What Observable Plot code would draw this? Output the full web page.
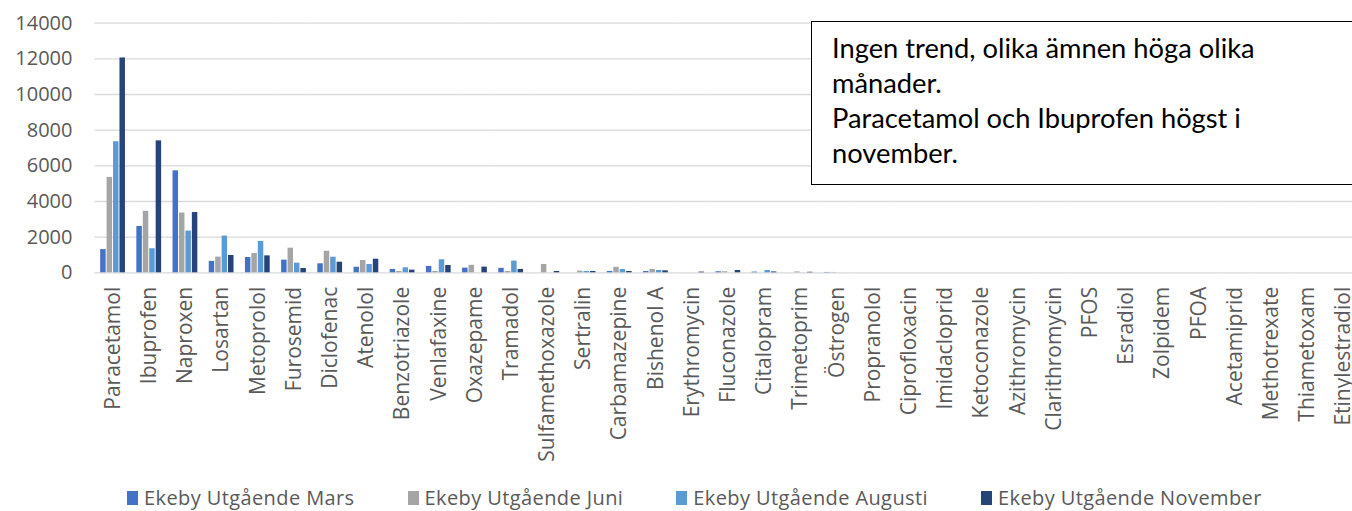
<!DOCTYPE html>
<html>
<head>
<meta charset="utf-8">
<script src="https://cdn.jsdelivr.net/npm/d3@7"></script>
<script src="https://cdn.jsdelivr.net/npm/@observablehq/plot@0.6"></script>
<style>
  html, body { margin: 0; padding: 0; background: #fff; overflow: hidden; width: 1352px; height: 511px; }
  #wrap { position: relative; width: 1352px; height: 511px; overflow: hidden; }
  #note { position: absolute; left: 811px; top: 21px; width: 620px; height: 164px; box-sizing: border-box;
          border: 1.5px solid #000; background: #fff; font-family: Lato, 'Open Sans', sans-serif; font-size: 27.3px;
          line-height: 35px; color: #000; padding: 8px 0 0 20px; }
  #note div { white-space: nowrap; }
  #legend { position: absolute; left: 127px; top: 486px; display: flex; font-family: 'Open Sans', sans-serif;
            font-size: 20px; letter-spacing: 0.4px; color: #595959; line-height: 24px; }
  #legend .item { display: flex; align-items: center; margin-right: 53px; white-space: nowrap; }
  #legend .sw { width: 11px; height: 14px; margin-right: 6px; }
</style>
</head>
<body>
<div id="wrap">
  <div id="chart"></div>
  <div id="note"></div>
  <div id="legend"></div>
</div>
<script>
const categories = ["Paracetamol","Ibuprofen","Naproxen","Losartan","Metoprolol","Furosemid","Diclofenac","Atenolol",
  "Benzotriazole","Venlafaxine","Oxazepame","Tramadol","Sulfamethoxazole","Sertralin","Carbamazepine","Bishenol A",
  "Erythromycin","Fluconazole","Citalopram","Trimetoprim","Östrogen","Propranolol","Ciprofloxacin","Imidacloprid",
  "Ketoconazole","Azithromycin","Clarithromycin","PFOS","Esradiol","Zolpidem","PFOA","Acetamiprid","Methotrexate",
  "Thiametoxam","Etinylestradiol"];

const series = ["Ekeby Utgående Mars","Ekeby Utgående Juni","Ekeby Utgående Augusti","Ekeby Utgående November"];
const colors = ["#4472C4","#A5A5A5","#5B9BD5","#264478"];

const mars     = [1300,2600,5720,640,860,710,505,314, 190,355,262,250,0,0,75,75, 0,60,40,0,20,0,0,0, 0,0,0,0,0,0,0,0,0, 0,0];
const juni     = [5350,3450,3350,880,1080,1380,1210,690, 75,75,420,75,468,95,310,187, 0,60,0,50,20,0,0,0, 0,0,0,0,0,0,0,0,0, 0,0];
const augusti  = [7350,1350,2340,2060,1760,540,875,465, 280,730,0,655,0,75,187,130, 0,0,130,0,0,0,0,0, 0,0,0,0,0,0,0,0,0, 0,0];
const november = [12050,7400,3380,970,950,240,594,763, 150,410,318,187,75,75,75,112, 40,130,50,30,0,0,0,0, 0,0,0,0,0,0,0,0,0, 0,0];

const yTicks = [0,2000,4000,6000,8000,10000,12000,14000];

const noteLines = ["Ingen trend, olika ämnen höga olika", "månader.", "Paracetamol och Ibuprofen högst i", "november."];

const seriesValues = [mars, juni, augusti, november];
const data = categories.flatMap((c, i) => seriesValues.map((arr, j) => ({cat: c, series: series[j], value: arr[i]})));

const chart = Plot.plot({
  width: 1352,
  height: 470,
  marginLeft: 99.2,
  marginRight: -4.4,
  marginTop: 22.7,
  marginBottom: 197.7,
  style: {fontFamily: "'Open Sans', sans-serif", color: "#595959", background: "transparent", overflow: "visible"},
  fx: {domain: categories, padding: 0.262, round: false, label: null},
  x: {domain: series, padding: 0.15, round: false, axis: null},
  y: {domain: [0, 14000], label: null},
  color: {domain: series, range: colors},
  marks: [
    Plot.ruleY(yTicks, {stroke: "#d9d9d9", strokeWidth: 1.3, insetLeft: -4.8, insetRight: -4.8}),
    Plot.barY(data, {fx: "cat", x: "series", y: "value", fill: "series"}),
    Plot.axisY({ticks: yTicks, tickSize: 0, tickPadding: 27.2, tickFormat: d3.format("d"), fontSize: 20, label: null}),
    Plot.axisFx({anchor: "bottom", tickSize: 0, tickPadding: 14, tickRotate: -90, fontSize: 21, label: null})
  ]
});
document.getElementById("chart").appendChild(chart);

const note = document.getElementById("note");
noteLines.forEach(t => { const d = document.createElement("div"); d.textContent = t; note.appendChild(d); });

const legend = document.getElementById("legend");
series.forEach((s, i) => {
  const it = document.createElement("div"); it.className = "item";
  const sw = document.createElement("div"); sw.className = "sw"; sw.style.background = colors[i];
  const tx = document.createElement("span"); tx.textContent = s;
  it.appendChild(sw); it.appendChild(tx); legend.appendChild(it);
});
</script>
</body>
</html>
